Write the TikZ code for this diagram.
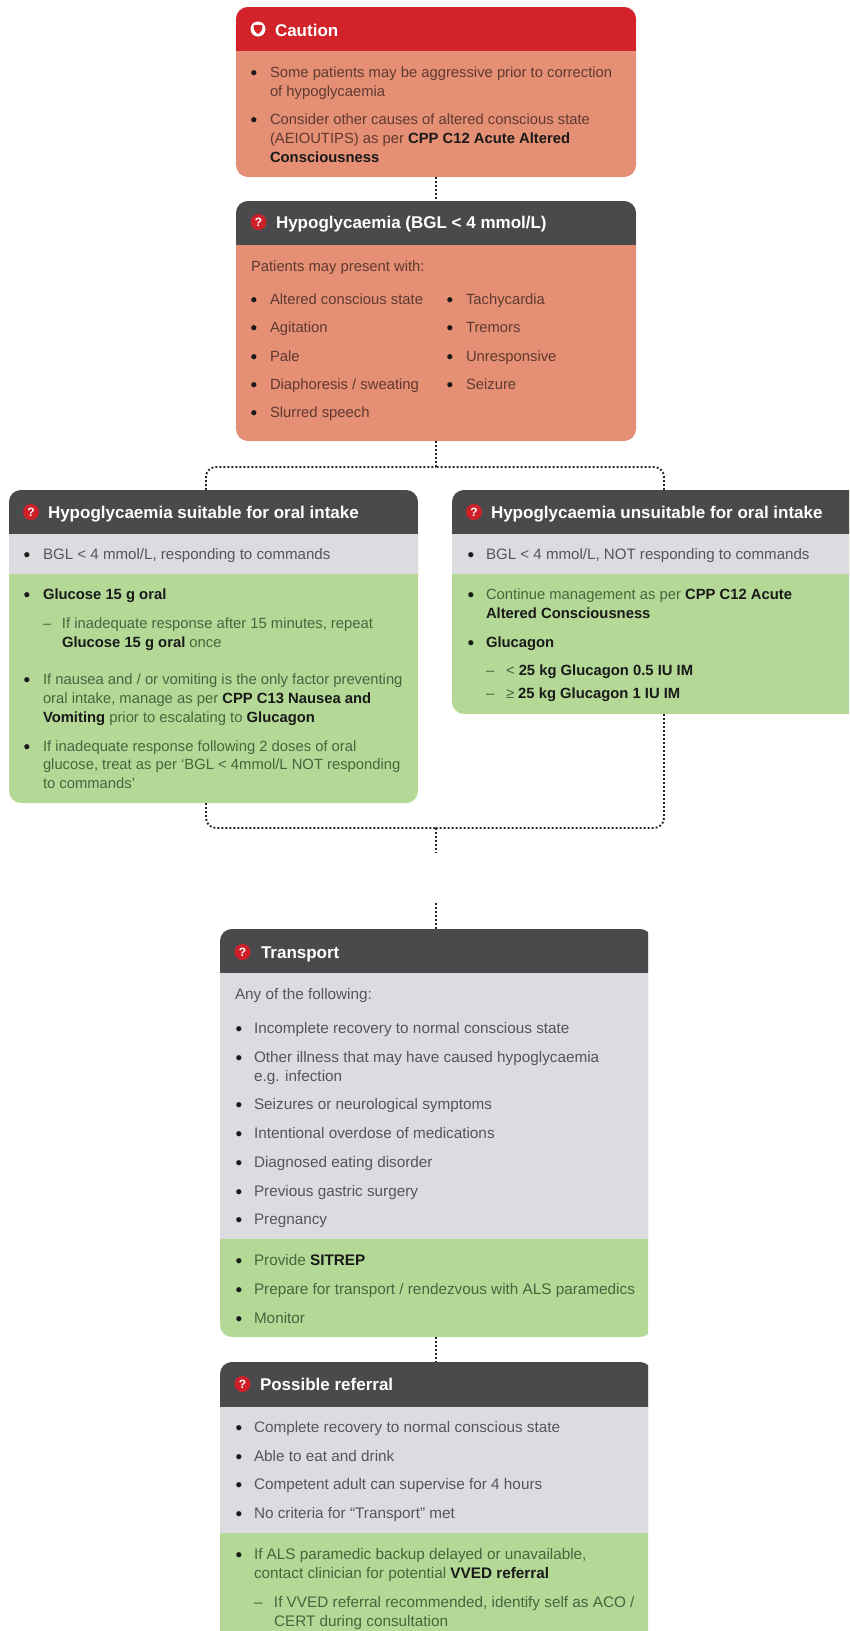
\documentclass[tikz,border=0pt]{standalone}
\usepackage{fontspec}
\setmainfont{Liberation Sans}
\definecolor{cRed}{HTML}{D2232A}
\definecolor{cDark}{HTML}{4A4A4C}
\definecolor{cSalmon}{HTML}{E58F75}
\definecolor{cGrey}{HTML}{DCDCE0}
\definecolor{cGreen}{HTML}{B4D997}
\definecolor{cIcon}{HTML}{CE2028}
\definecolor{tSalmon}{HTML}{5F3A30}
\definecolor{tGrey}{HTML}{55555A}
\definecolor{tGreen}{HTML}{46653F}
\colorlet{bodytext}{black}
\newcommand{\tsz}{14.8}
\newcounter{tn}
\newcommand{\B}[1]{\textcolor{black!90}{\bfseries #1}}
\newcommand{\tl}[3]{\stepcounter{tn}\node[txt] (t\arabic{tn}) at (#1,#2) {#3};}
\newcommand{\bl}[4]{\stepcounter{tn}\node[txt] (t\arabic{tn}) at ({#1-3.3},#3) {\makebox[\dimexpr #2pt-#1pt+3.3pt\relax][l]{\textcolor{black!90}{\raisebox{-2.8pt}{\fontsize{19}{19}\selectfont •}}}#4};}
\newcommand{\dl}[4]{\stepcounter{tn}\node[txt] (t\arabic{tn}) at (#1,#3) {\makebox[\dimexpr #2pt-#1pt\relax][l]{–}#4};}
\newcommand{\hd}[4]{\node[headicon] (#1i) at (#2,#3) {?};}
\newcommand{\band}[3]{\fill[#1,sharp corners] ([yshift=-#2pt]path picture bounding box.north west) rectangle ([yshift=-#3pt]path picture bounding box.north east);}
\tikzset{
  panel/.style={rectangle,rounded corners=12pt,inner sep=0pt,outer sep=0pt,anchor=north west},
  txt/.style={anchor=base west,inner sep=0pt,outer sep=0pt,text=bodytext,font=\fontsize{\tsz}{17}\selectfont},
  headtxt/.style={anchor=base west,inner sep=0pt,outer sep=0pt,text=white,font=\fontsize{17}{20}\selectfont\bfseries},
  headicon/.style={circle,fill=cIcon,text=white,inner sep=0pt,outer sep=0pt,minimum size=16pt,font=\fontsize{12}{12}\selectfont\bfseries},
  conn/.style={draw=black!85,line width=1.9pt,dash pattern=on 1.9pt off 2.1pt},
  connr/.style={conn,rounded corners=10pt}
}
\begin{document}
\begin{tikzpicture}[x=1pt,y=-1pt]
\useasboundingbox (0,0) rectangle (849,1631);
\clip (0,0) rectangle (849,1631);
% ---------- panels
\node[panel,fill=cSalmon,minimum width=400pt,minimum height=170pt,
  path picture={\band{cRed}{0}{44}}] (caution) at (236,7) {};
\node[panel,fill=cSalmon,minimum width=400pt,minimum height=240pt,
  path picture={\band{cDark}{0}{44}}] (hypo) at (236,201) {};
\node[panel,fill=cGreen,minimum width=409pt,minimum height=313pt,
  path picture={\band{cDark}{0}{44}\band{cGrey}{44}{84}}] (oral) at (9,490) {};
\node[panel,fill=cGreen,minimum width=410pt,minimum height=224pt,
  path picture={\band{cDark}{0}{44}\band{cGrey}{44}{84}}] (noral) at (452,490) {};
\begin{scope}
\clip (0,900) rectangle (648,1631);
\node[panel,fill=cGreen,minimum width=432pt,minimum height=408pt,
  path picture={\band{cDark}{0}{44}\band{cGrey}{44}{310}}] (transport) at (220,929) {};
\node[panel,fill=cGreen,minimum width=432pt,minimum height=300pt,
  path picture={\band{cDark}{0}{45}\band{cGrey}{45}{171}}] (referral) at (220,1362) {};
\end{scope}
% ---------- connector points
\coordinate (splitTop) at (436,467);
\coordinate (oralIn) at (206,490);
\coordinate (noralIn) at (664,490);
\coordinate (oralOut) at (206,803);
\coordinate (noralOut) at (664,714);
\coordinate (mergeBot) at (436,828);
\coordinate (mergeEnd) at (436,853);
\coordinate (stubTop) at (436,903);
% ---------- connectors
\draw[conn] (caution.south) -- (hypo.north);
\draw[conn] (hypo.south) -- (splitTop);
\draw[connr] (oralIn) |- (splitTop);
\draw[connr] (noralIn) |- (splitTop);
\draw[connr] (oralOut) |- (mergeBot);
\draw[connr] (noralOut) |- (mergeBot);
\draw[conn] (mergeBot) -- (mergeEnd);
\draw[conn] (stubTop) -- (transport.north);
\draw[conn] (transport.south) -- (referral.north);
% ---------- caution
\node[circle,fill=white,inner sep=0pt,minimum size=15pt] (cautioni) at (258,29) {};
\fill[cRed] (253.5,25.5) .. controls (256,24.5) and (260,24.5) .. (262.5,25.5) .. controls (262.8,29) and (261,32.5) .. (258,34) .. controls (255,32.5) and (253.2,29) .. (253.5,25.5) -- cycle;
\node[headtxt] (cautionh) at (275,36) {Caution};
\colorlet{bodytext}{tSalmon}
\bl{254}{270}{77}{Some patients may be aggressive prior to correction}
\tl{270}{96}{of hypoglycaemia}
\bl{254}{270}{124}{Consider other causes of altered conscious state}
\tl{270}{143}{(AEIOUTIPS) as per \B{CPP C12 Acute Altered}}
\tl{270}{162}{\B{Consciousness}}
% ---------- hypoglycaemia
\hd{hypo}{258.5}{222}{}
\node[headtxt] (hypoh) at (276,228) {Hypoglycaemia (BGL < 4 mmol/L)};
\tl{251}{271}{Patients may present with:}
\bl{254}{270}{304}{Altered conscious state}
\bl{254}{270}{332}{Agitation}
\bl{254}{270}{361}{Pale}
\bl{254}{270}{389}{Diaphoresis / sweating}
\bl{254}{270}{417}{Slurred speech}
\bl{450}{466}{304}{Tachycardia}
\bl{450}{466}{332}{Tremors}
\bl{450}{466}{361}{Unresponsive}
\bl{450}{466}{389}{Seizure}
% ---------- oral
\hd{oral}{31}{512}{}
\node[headtxt] (oralh) at (48,518) {Hypoglycaemia suitable for oral intake};
\colorlet{bodytext}{tGrey}
\renewcommand{\tsz}{15.1}
\bl{27}{43}{559}{BGL < 4 mmol/L, responding to commands}
\renewcommand{\tsz}{14.8}
\colorlet{bodytext}{tGreen}
\bl{27}{43}{599}{\B{Glucose 15 g oral}}
\dl{43}{62}{628}{If inadequate response after 15 minutes, repeat}
\tl{62}{647}{\B{Glucose 15 g oral} once}
\bl{27}{43}{684}{If nausea and / or vomiting is the only factor preventing}
\tl{43}{703}{oral intake, manage as per \B{CPP C13 Nausea and}}
\tl{43}{722}{\B{Vomiting} prior to escalating to \B{Glucagon}}
\bl{27}{43}{751}{If inadequate response following 2 doses of oral}
\tl{43}{769}{glucose, treat as per ‘BGL < 4mmol/L NOT responding}
\tl{43}{788}{to commands’}
% ---------- not oral
\hd{noral}{474}{512}{}
\node[headtxt] (noralh) at (491,518) {Hypoglycaemia unsuitable for oral intake};
\colorlet{bodytext}{tGrey}
\renewcommand{\tsz}{15.1}
\bl{471}{486}{559}{BGL < 4 mmol/L, NOT responding to commands}
\renewcommand{\tsz}{14.8}
\colorlet{bodytext}{tGreen}
\bl{471}{486}{599}{Continue management as per \B{CPP C12 Acute}}
\tl{486}{618}{\B{Altered Consciousness}}
\bl{471}{486}{647}{\B{Glucagon}}
\dl{486}{506}{675}{< \B{25 kg Glucagon 0.5 IU IM}}
\dl{486}{506}{698}{≥ \B{25 kg Glucagon 1 IU IM}}
% ---------- transport
\hd{transport}{242.5}{952}{}
\node[headtxt] (transporth) at (261,958) {Transport};
\renewcommand{\tsz}{15.3}
\colorlet{bodytext}{tGrey}
\tl{235}{999}{Any of the following:}
\bl{239}{254}{1033}{Incomplete recovery to normal conscious state}
\bl{239}{254}{1062}{Other illness that may have caused hypoglycaemia}
\tl{254}{1081}{e.g. infection}
\bl{239}{254}{1109}{Seizures or neurological symptoms}
\bl{239}{254}{1138}{Intentional overdose of medications}
\bl{239}{254}{1167}{Diagnosed eating disorder}
\bl{239}{254}{1196}{Previous gastric surgery}
\bl{239}{254}{1224}{Pregnancy}
\colorlet{bodytext}{tGreen}
\bl{239}{254}{1265}{Provide \B{SITREP}}
\bl{239}{254}{1294}{Prepare for transport / rendezvous with ALS paramedics}
\bl{239}{254}{1323}{Monitor}
% ---------- referral
\hd{referral}{242.5}{1384}{}
\node[headtxt] (referralh) at (260,1390) {Possible referral};
\colorlet{bodytext}{tGrey}
\bl{239}{254}{1432}{Complete recovery to normal conscious state}
\bl{239}{254}{1461}{Able to eat and drink}
\bl{239}{254}{1489}{Competent adult can supervise for 4 hours}
\bl{239}{254}{1518}{No criteria for “Transport” met}
\colorlet{bodytext}{tGreen}
\bl{239}{254}{1559}{If ALS paramedic backup delayed or unavailable,}
\tl{254}{1578}{contact clinician for potential \B{VVED referral}}
\dl{254}{274}{1607}{If VVED referral recommended, identify self as ACO /}
\tl{274}{1626}{CERT during consultation}
\end{tikzpicture}
\end{document}
